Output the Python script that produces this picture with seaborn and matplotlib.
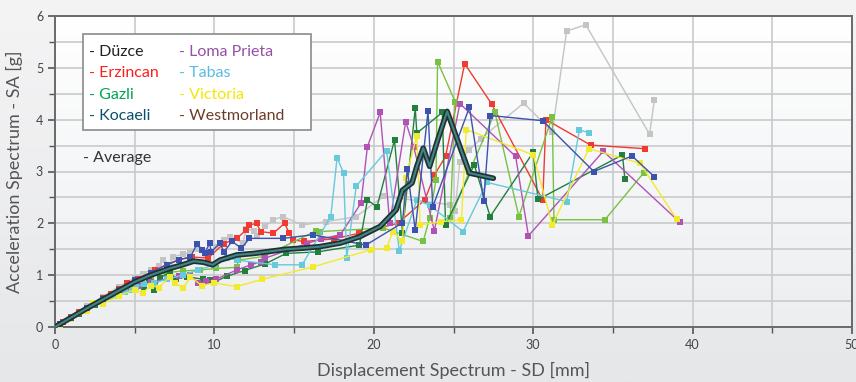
import numpy as np
import pandas as pd
import matplotlib
matplotlib.use("Agg")
import matplotlib.pyplot as plt
from matplotlib.colors import LinearSegmentedColormap
from matplotlib.patches import FancyBboxPatch
from matplotlib.ticker import MultipleLocator
import seaborn as sns

# ---- spectra per earthquake record: displacement SD [mm], acceleration SA [g] ----
duzce_sd = [0, 0.3, 1, 2, 3, 4, 5, 5.5, 6, 6.5, 6.8, 7.2, 7.4, 8, 8.5, 9.0, 9.5, 10.1, 10.6, 11.0, 11.8,
            12.0, 12.5, 12.7, 13.2, 13.7, 14.3, 15.5, 17.0, 18.9, 20.6, 24.8, 25.1, 25.4, 26.0, 26.7,
            29.4, 31.2, 32.1, 33.3, 37.3, 37.6]
duzce_sa = [0, 0.05, 0.2, 0.4, 0.58, 0.78, 0.95, 1.03, 1.1, 1.18, 1.3, 1.2, 1.36, 1.4, 1.45, 1.5, 1.4,
            1.55, 1.68, 1.74, 1.62, 1.9, 1.85, 1.75, 1.95, 2.07, 2.13, 1.97, 2.03, 2.13, 2.52, 2.36, 2.23,
            3.19, 3.42, 3.63, 4.32, 3.77, 5.71, 5.83, 3.72, 4.38]

erzincan_sd = [0, 0.5, 1, 1.5, 2, 2.5, 3, 3.5, 4, 4.5, 5.2, 6.3, 7, 7.8, 8.6, 9.6, 10.6, 11.4, 12.0,
               12.2, 12.65, 12.9, 13.7, 14.4, 14.7, 14.95, 15.6, 17.5, 19.1, 21.5, 23.2, 23.8, 24.5,
               25.7, 27.4, 30.6, 30.8, 33.6, 37.0]
erzincan_sa = [0, 0.1, 0.19, 0.28, 0.37, 0.46, 0.55, 0.64, 0.74, 0.84, 0.93, 1.1, 1.2, 1.3, 1.35, 1.33,
               1.61, 1.71, 1.87, 1.97, 2.0, 1.84, 1.81, 2.0, 1.81, 1.68, 1.65, 1.7, 1.81, 2.0, 2.45,
               2.93, 3.29, 5.08, 4.3, 2.45, 4.0, 3.51, 3.44]

gazli_sd = [0, 0.3, 1, 2, 3, 4, 5, 6, 7, 8, 9.1, 10.1, 11.4, 11.5, 13.1, 16.4, 16.6, 20.6, 23.1, 23.5,
            23.9, 24.0, 25.1, 24.8, 26.0, 27.6, 29.1, 31.2, 31.3, 34.5, 36.95]
gazli_sa = [0, 0.05, 0.18, 0.36, 0.53, 0.7, 0.86, 0.98, 1.05, 1.08, 1.1, 1.13, 1.15, 1.29, 1.36, 1.86,
            1.84, 1.91, 1.65, 2.1, 2.84, 5.12, 4.35, 2.1, 3.0, 4.14, 2.13, 4.06, 2.07, 2.07, 2.98]

kocaeli_sd = [0, 0.3, 1, 1.5, 2, 2.5, 3, 3.5, 4, 4.5, 5, 5.6, 5.9, 6.2, 6.6, 7.2, 7.6, 8.3, 9.3, 9.7,
              10.0, 10.8, 11.9, 13.2, 14.5, 16.5, 19.1, 19.6, 20.2, 21.3, 21.8, 22.6, 22.7, 24.3, 24.5,
              26.3, 27.3, 30.0, 30.3, 35.6, 35.75]
kocaeli_sa = [0, 0.04, 0.17, 0.26, 0.34, 0.43, 0.51, 0.6, 0.68, 0.77, 0.83, 0.78, 0.88, 0.72, 0.95,
              1.05, 0.93, 0.97, 0.92, 0.9, 0.87, 0.98, 1.09, 1.22, 1.42, 1.45, 1.58, 2.45, 2.32, 3.61,
              1.82, 4.22, 3.74, 4.14, 1.97, 3.13, 2.13, 3.37, 2.46, 3.32, 2.86]

loma_sd = [0, 0.3, 1, 2, 3, 3.8, 4.5, 5.3, 6, 7, 7.8, 8.5, 9.0, 9.5, 10.1, 11.4, 12.3, 12.9, 13.2,
           15.8, 16.7, 17.9, 19.2, 19.6, 20.4, 21.0, 22.0, 22.5, 23.8, 25.4, 28.9, 29.7, 34.4, 39.2]
loma_sa = [0, 0.04, 0.16, 0.33, 0.5, 0.62, 0.71, 0.8, 0.86, 0.93, 0.98, 1.0, 0.84, 0.88, 0.92, 1.1,
           1.2, 1.26, 1.33, 1.61, 1.7, 1.78, 2.39, 3.48, 4.14, 2.0, 3.96, 3.48, 1.86, 4.31, 3.29, 1.76,
           3.39, 2.02]

tabas_sd = [0, 0.3, 1, 2, 3, 3.9, 4.4, 4.8, 5.1, 5.6, 6.2, 7, 8, 9, 10.0, 10.8, 11.4, 13.8, 15.5,
            17.3, 17.7, 18.1, 18.3, 18.9, 20.8, 21.6, 22.7, 23.5, 25.6, 27.1, 32.1, 32.9, 33.5]
tabas_sa = [0, 0.04, 0.16, 0.32, 0.48, 0.6, 0.68, 0.72, 0.78, 0.83, 0.85, 0.92, 1.0, 1.1, 1.2, 1.33,
            1.29, 1.2, 1.2, 2.13, 3.27, 2.97, 1.33, 2.72, 3.4, 1.47, 2.45, 2.35, 1.84, 2.79, 2.42,
            3.8, 3.75]

victoria_sd = [0, 0.3, 1, 2, 2.4, 3, 4, 5, 5.5, 6, 6.5, 7.2, 7.5, 8.05, 8.5, 9.2, 10, 11.4, 13.0,
               16.2, 19.8, 20.8, 21.2, 21.8, 22.0, 22.7, 22.9, 24.2, 25.5, 25.8, 30.0, 31.2, 33.5,
               36.7, 39.0]
victoria_sa = [0, 0.03, 0.15, 0.3, 0.46, 0.45, 0.6, 0.72, 0.65, 0.8, 0.76, 0.97, 0.85, 0.75, 0.97,
               0.8, 0.85, 0.78, 0.92, 1.16, 1.49, 1.52, 1.84, 1.65, 2.87, 3.69, 1.97, 2.03, 2.07,
               3.81, 3.32, 1.97, 3.44, 3.16, 2.08]

westmorland_sd = [0, 0.3, 1, 2, 3, 4, 5, 6, 7, 7.8, 8.5, 8.9, 9.2, 9.4, 9.7, 9.8, 10.35, 10.6, 11.1,
                  11.7, 12.2, 14.3, 16.2, 19.5, 21.8, 22.1, 22.6, 23.4, 23.7, 26.0, 26.9, 27.3, 30.6,
                  33.8, 36.2, 37.6]
westmorland_sa = [0, 0.05, 0.18, 0.36, 0.54, 0.72, 0.9, 1.05, 1.2, 1.3, 1.35, 1.6, 1.49, 1.42, 1.62,
                  1.45, 1.62, 1.45, 1.65, 1.52, 1.71, 1.71, 1.78, 1.58, 2.01, 3.04, 1.87, 4.16, 2.32,
                  4.24, 2.44, 4.08, 3.98, 3.0, 3.3, 2.9]

average_sd = [0, 1, 2, 3, 4, 5, 6, 7.2, 8, 8.7, 9.3, 9.9, 10.35, 11.4, 12.5, 13.5, 14.5, 15.5, 16.6,
              17.9, 19.1, 20.4, 21.4, 21.8, 22.4, 22.7, 23.1, 23.5, 24.0, 24.6, 26.0, 26.6, 27.5]
average_sa = [0, 0.18, 0.36, 0.53, 0.7, 0.87, 1.0, 1.13, 1.2, 1.27, 1.25, 1.2, 1.29, 1.39, 1.42,
              1.46, 1.5, 1.52, 1.55, 1.62, 1.74, 1.94, 2.26, 2.64, 2.78, 3.1, 3.45, 3.1, 3.6, 4.16,
              2.97, 2.93, 2.87]

records = ["Düzce", "Erzincan", "Gazli", "Kocaeli", "Loma Prieta", "Tabas", "Victoria", "Westmorland"]
sd_lists = [duzce_sd, erzincan_sd, gazli_sd, kocaeli_sd, loma_sd, tabas_sd, victoria_sd, westmorland_sd]
sa_lists = [duzce_sa, erzincan_sa, gazli_sa, kocaeli_sa, loma_sa, tabas_sa, victoria_sa, westmorland_sa]

# curve colours and legend text colours
line_colors = {
    "Düzce": "#c4c4c4", "Erzincan": "#f03a32", "Gazli": "#78c242", "Kocaeli": "#22803e",
    "Loma Prieta": "#b152b4", "Tabas": "#66c9dc", "Victoria": "#f2ea2e", "Westmorland": "#3c52ae",
}
text_colors = {
    "Düzce": "#222222", "Erzincan": "#ff1e1e", "Gazli": "#00a650", "Kocaeli": "#0b4f6c",
    "Loma Prieta": "#9650a6", "Tabas": "#55bde3", "Victoria": "#f4e800", "Westmorland": "#6e3b2b",
}

frames = []
for name, sd, sa in zip(records, sd_lists, sa_lists):
    frames.append(pd.DataFrame({"SD": sd, "SA": sa, "record": name}))
df = pd.concat(frames, ignore_index=True)
avg = pd.DataFrame({"SD": average_sd, "SA": average_sa})

sns.set_theme(style="white")
plt.rcParams["font.family"] = ["Lato", "DejaVu Sans"]

fig = plt.figure(figsize=(8.56, 3.82), dpi=100)
fig.patch.set_facecolor("#eeeef0")

# soft vertical gradient behind the whole figure
bg = fig.add_axes([0, 0, 1, 1], zorder=-10)
bg.imshow(np.linspace(0, 1, 256).reshape(-1, 1), aspect="auto", extent=[0, 1, 0, 1],
          cmap=LinearSegmentedColormap.from_list("bgf", ["#e6e7e9", "#f4f4f5"]), origin="lower")
bg.axis("off")

ax = fig.add_axes([55 / 856, 1 - 327 / 382, 797 / 856, 311 / 382])
ax.set_xlim(0, 50)
ax.set_ylim(0, 6)

# plot-area gradient: white at the top fading to light grey
ax.imshow(np.linspace(0, 1, 256).reshape(-1, 1), aspect="auto", extent=[0, 50, 0, 6],
          cmap=LinearSegmentedColormap.from_list("bga", ["#eceef0", "#ffffff"]), origin="lower",
          zorder=0)

ax.xaxis.set_major_locator(MultipleLocator(10))
ax.xaxis.set_minor_locator(MultipleLocator(5))
ax.yaxis.set_major_locator(MultipleLocator(1))
ax.yaxis.set_minor_locator(MultipleLocator(0.5))
ax.set_axisbelow(True)
ax.grid(True, which="both", color="#c9cacc", linewidth=1.2)

# each record drawn in its recorded order (no sorting, no aggregation)
sns.lineplot(data=df, x="SD", y="SA", hue="record", estimator=None, sort=False,
             palette=line_colors, hue_order=records, marker="s", markersize=3.9,
             markeredgewidth=0, linewidth=1.0, legend=False, ax=ax, zorder=3)

sns.lineplot(data=avg, x="SD", y="SA", sort=False, estimator=None, color="#223030",
             linewidth=4.0, ax=ax, zorder=5)
sns.lineplot(data=avg, x="SD", y="SA", sort=False, estimator=None, color="#3f8585",
             linewidth=1.5, ax=ax, zorder=6)

for side in ["left", "bottom", "top", "right"]:
    ax.spines[side].set_visible(True)
    ax.spines[side].set_color("#6a6a6a")
    ax.spines[side].set_linewidth(1.4)

ax.tick_params(axis="both", which="major", direction="out", length=5, width=1.2,
               color="#555555", labelsize=9, labelcolor="#444444", bottom=True, left=True)
ax.tick_params(axis="both", which="minor", direction="out", length=4, width=1.0,
               color="#555555", bottom=True, left=True)
ax.set_xlabel("Displacement Spectrum - SD [mm]", fontsize=13, color="#555555", labelpad=8)
ax.set_ylabel("Acceleration Spectrum - SA [g]", fontsize=13, color="#555555", labelpad=9)

# legend box with coloured record names
box = FancyBboxPatch((83 / 856, 1 - 130 / 382), 228 / 856, 96 / 382, boxstyle="square,pad=0",
                     transform=fig.transFigure, facecolor="white", edgecolor="#8a8a8a",
                     linewidth=1.2, zorder=20)
fig.patches.append(box)
rows_y = [52, 73, 95, 116]
for i, name in enumerate(records):
    col_x = 89 if i < 4 else 179
    fig.text(col_x / 856, 1 - rows_y[i % 4] / 382, "- " + name, fontsize=11.5,
             color=text_colors[name], va="center", ha="left", zorder=21)
fig.text(83 / 856, 1 - 158 / 382, "- Average", fontsize=11.5, color="#333333",
         va="center", ha="left", zorder=21)

fig.savefig("out.png", dpi=100, facecolor=fig.get_facecolor())
